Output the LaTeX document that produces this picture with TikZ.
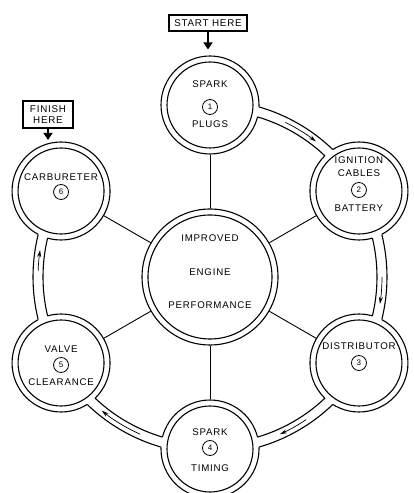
\documentclass[tikz,border=0pt]{standalone}
\usepackage{fontspec}
\setmainfont{Liberation Sans}[LetterSpace=8]
\usetikzlibrary{arrows.meta}
\begin{document}
\begin{tikzpicture}[x=1pt,y=1pt,line width=1.1pt,
  sat/.style={circle,draw,fill=white,minimum size=98pt,inner sep=0pt},
  hub/.style={circle,draw,fill=white,minimum size=136pt,inner sep=0pt},
  lbl/.style={font=\fontsize{9.7}{10}\selectfont,inner sep=0pt},
  num/.style={circle,draw,line width=0.8pt,minimum size=15pt,inner sep=0pt,font=\fontsize{8}{8}\selectfont},
  tagbox/.style={draw,fill=white,font=\fontsize{9.8}{10.5}\selectfont,align=center,inner sep=0pt},
  spoke/.style={line width=0.9pt},
  flow/.style={line width=0.7pt,-{Stealth[length=7pt,width=4pt]}},
  bigarrow/.style={line width=2.8pt,-{Triangle[length=7pt,width=9pt]}},
]
\useasboundingbox (0,0) rectangle (414,493);
\coordinate (O) at (210,216);
% hub and satellites
\node[hub] (c) at (O) {};
\foreach \i/\a in {1/90,2/30,3/-30,4/-90,5/-150,6/150}
  \node[sat] (s\i) at ([shift={(\a:172)}]O) {};
% spokes
\foreach \i in {1,...,6} \draw[spoke] (c) -- (s\i);
\draw (O) circle (62);
% ring channel
\foreach \a/\b in {90/30,30/-30,-30/-90,-90/-150,-150/-210}{
  \pgfmathsetmacro\aout{\a-16.1}
  \pgfmathsetmacro\bout{\b+16.1}
  \pgfmathsetmacro\ain{\a-16.5}
  \pgfmathsetmacro\bin{\b+16.5}
  \fill[white] ([shift={(\a:177)}]O) arc[start angle=\a,end angle=\b,radius=177]
     -- ([shift={(\b:167)}]O) arc[start angle=\b,end angle=\a,radius=167] -- cycle;
  \draw ([shift={(\aout:177)}]O) arc[start angle=\aout,end angle=\bout,radius=177];
  \draw ([shift={(\ain:167)}]O) arc[start angle=\ain,end angle=\bin,radius=167];
}
\foreach \i in {1,...,6} \draw (s\i.center) circle (43);
% flow arrows
\draw[flow] ([shift={(64:172)}]O) arc[start angle=64,end angle=52,radius=172];
\draw[flow] ([shift={(0:172)}]O) arc[start angle=0,end angle=-9,radius=172];
\draw[flow] ([shift={(-56:172)}]O) arc[start angle=-56,end angle=-66,radius=172];
\draw[flow] ([shift={(-114:172)}]O) arc[start angle=-114,end angle=-129,radius=172];
\draw[flow] ([shift={(178:172)}]O) arc[start angle=178,end angle=171,radius=172];
% labels
\node[lbl] (t1a) at ([yshift=21pt]s1.center) {SPARK};
\node[num] (n1) at ([yshift=-2pt]s1.center) {1};
\node[lbl] (t1b) at ([yshift=-19pt]s1.center) {PLUGS};
\node[lbl] (t2a) at ([yshift=31pt]s2.center) {IGNITION};
\node[lbl] (t2b) at ([yshift=18pt]s2.center) {CABLES};
\node[num] (n2) at ([yshift=1pt]s2.center) {2};
\node[lbl] (t2c) at ([yshift=-17pt]s2.center) {BATTERY};
\node[lbl] (t3a) at ([yshift=17pt]s3.center) {DISTRIBUTOR};
\node[num] (n3) at ([yshift=0pt]s3.center) {3};
\node[lbl] (t4a) at ([yshift=17pt]s4.center) {SPARK};
\node[num] (n4) at ([yshift=1pt]s4.center) {4};
\node[lbl] (t4b) at ([yshift=-19pt]s4.center) {TIMING};
\node[lbl] (t5a) at ([yshift=14pt]s5.center) {VALVE};
\node[num] (n5) at ([yshift=-2pt]s5.center) {5};
\node[lbl] (t5b) at ([yshift=-19pt]s5.center) {CLEARANCE};
\node[lbl] (t6a) at ([yshift=14pt]s6.center) {CARBURETER};
\node[num] (n6) at ([yshift=-1pt]s6.center) {6};
\node[lbl] (ta) at ([yshift=39pt]O) {IMPROVED};
\node[lbl] (tb) at ([yshift=5pt]O) {ENGINE};
\node[lbl] (tc) at ([yshift=-28pt]O) {PERFORMANCE};
% start / finish
\node[tagbox,minimum width=78pt,minimum height=16pt] (start) at (208,470) {START HERE};
\node[tagbox,minimum width=50pt,minimum height=27pt] (finish) at (48,378.5) {FINISH\\HERE};
\draw[bigarrow,shorten >=6pt] (start.south) -- (start.south |- s1.north);
\draw[bigarrow,line width=2.2pt,shorten >=1.5pt] (finish.south) -- (finish.south |- s6.north);
\end{tikzpicture}
\end{document}
